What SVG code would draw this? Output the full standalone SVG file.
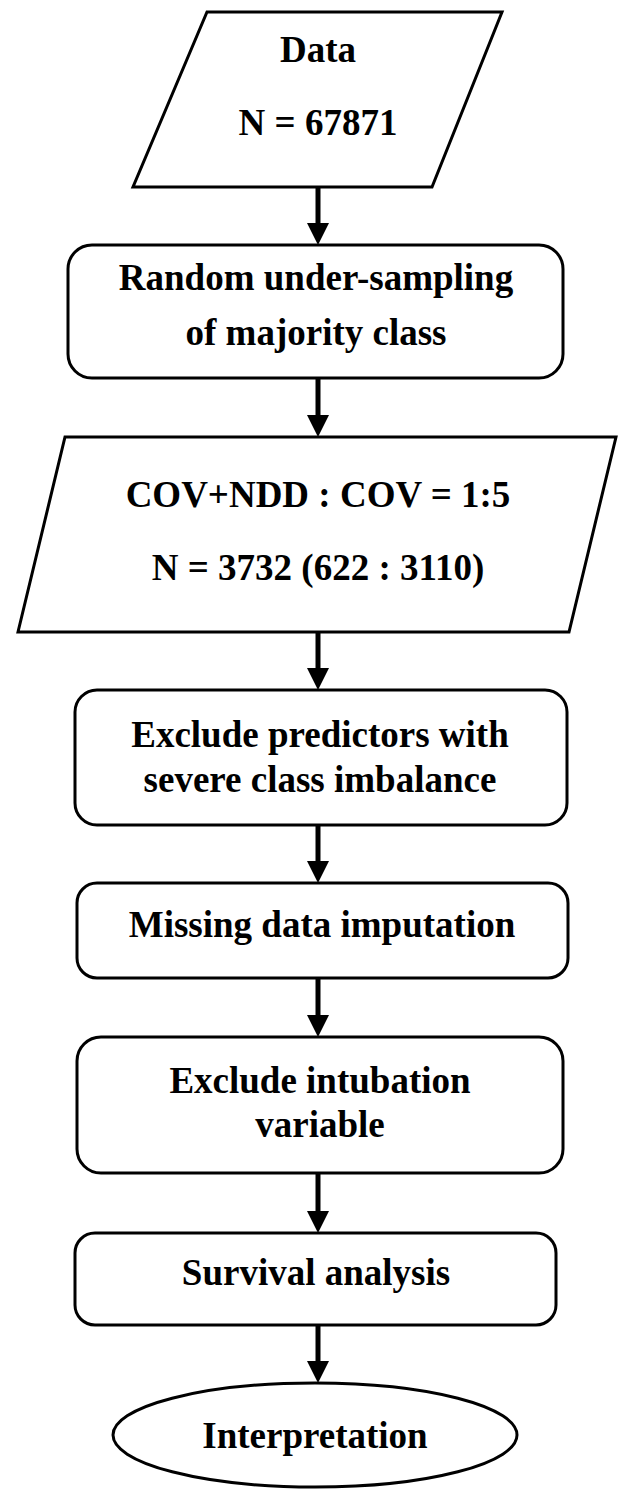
<svg xmlns="http://www.w3.org/2000/svg" width="618" height="1491" viewBox="0 0 618 1491">
<style>
.s{fill:#fff;stroke:#000;stroke-width:3;stroke-linejoin:miter}
.t{font-family:"Liberation Serif","Times New Roman",serif;font-weight:bold;font-size:37px;fill:#000;text-anchor:middle}
.c{stroke:#000;stroke-width:5;fill:none}
</style>
<defs>
<marker id="ah" markerUnits="userSpaceOnUse" viewBox="0 0 22 22" markerWidth="22" markerHeight="22" refX="12" refY="11" orient="auto">
<path d="M0,0 L22,11 L0,22 Z" fill="#000"/>
</marker>
</defs>
<rect width="618" height="1491" fill="#fff"/>
<g id="connectors">
<path class="c" d="M318,187 V235" marker-end="url(#ah)"/>
<path class="c" d="M318,378 V427" marker-end="url(#ah)"/>
<path class="c" d="M318,632 V680" marker-end="url(#ah)"/>
<path class="c" d="M318,825 V873" marker-end="url(#ah)"/>
<path class="c" d="M318,978 V1027" marker-end="url(#ah)"/>
<path class="c" d="M318,1173 V1223" marker-end="url(#ah)"/>
<path class="c" d="M318,1325 V1373" marker-end="url(#ah)"/>
</g>
<g id="data">
<polygon class="s" points="207,12 502,12 432,187 133,187"/>
<text class="t" x="318" y="62">Data</text>
<text class="t" x="318" y="135">N = 67871</text>
</g>
<g id="undersampling">
<rect class="s" x="68" y="245" width="495" height="133" rx="24"/>
<text class="t" x="316" y="290">Random under-sampling</text>
<text class="t" x="316" y="345">of majority class</text>
</g>
<g id="ratio">
<polygon class="s" points="65,437 616,437 569,632 18,632"/>
<text class="t" x="318" y="507">COV+NDD : COV = 1:5</text>
<text class="t" x="318" y="580">N = 3732 (622 : 3110)</text>
</g>
<g id="exclude-predictors">
<rect class="s" x="75" y="690" width="492" height="135" rx="22"/>
<text class="t" x="320" y="747">Exclude predictors with</text>
<text class="t" x="320" y="792">severe class imbalance</text>
</g>
<g id="imputation">
<rect class="s" x="77" y="883" width="491" height="95" rx="20"/>
<text class="t" x="322" y="937">Missing data imputation</text>
</g>
<g id="exclude-intubation">
<rect class="s" x="77" y="1037" width="486" height="136" rx="24"/>
<text class="t" x="320" y="1093">Exclude intubation</text>
<text class="t" x="320" y="1137">variable</text>
</g>
<g id="survival">
<rect class="s" x="75" y="1233" width="481" height="92" rx="20"/>
<text class="t" x="316" y="1285">Survival analysis</text>
</g>
<g id="interpretation">
<ellipse class="s" cx="315" cy="1435" rx="202" ry="52"/>
<text class="t" x="315" y="1448">Interpretation</text>
</g>
</svg>
